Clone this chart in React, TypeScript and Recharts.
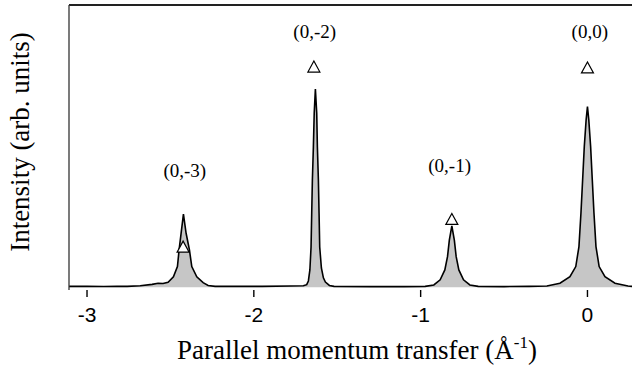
import { ComposedChart, Area, Scatter, XAxis, YAxis, ReferenceLine } from 'recharts';

// parallel momentum transfer (1/Å) and measured intensity (arb. units)
const momentum: number[] = [
  -3.108, -3.0, -2.9, -2.82, -2.759, -2.681, -2.61, -2.574, -2.544, -2.514,
  -2.482, -2.458, -2.448, -2.436, -2.422, -2.406, -2.386, -2.372, -2.342, -2.304,
  -2.274, -2.232, -2.1, -1.95, -1.781, -1.703, -1.683, -1.673, -1.664, -1.657,
  -1.653, -1.649, -1.643, -1.638, -1.631, -1.623, -1.619, -1.613, -1.609, -1.605,
  -1.595, -1.583, -1.571, -1.547, -1.519, -1.3, -1.1, -0.973, -0.921, -0.883,
  -0.855, -0.839, -0.828, -0.813, -0.798, -0.787, -0.771, -0.743, -0.705, -0.655,
  -0.5, -0.35, -0.243, -0.165, -0.105, -0.07, -0.051, -0.039, -0.029, -0.019,
  -0.008, 0.0, 0.008, 0.019, 0.029, 0.039, 0.051, 0.07, 0.105, 0.165,
  0.243, 0.267,
];
const intensity: number[] = [
  0.3, 0.3, 0.25, 0.3, 0.3, 0.5, 1.0, 1.4, 1.3, 1.7,
  3.7, 7.3, 13.2, 19.1, 25.9, 19.1, 13.2, 7.3, 3.7, 1.6,
  0.6, 0.3, 0.3, 0.3, 0.4, 0.5, 0.9, 2.2, 6.1, 14.2,
  26.3, 38.0, 49.7, 61.7, 70.2, 61.7, 49.7, 38.0, 26.3, 14.2,
  6.8, 3.3, 1.8, 0.6, 0.3, 0.2, 0.2, 0.3, 0.8, 2.6,
  6.1, 10.8, 16.7, 21.7, 16.7, 10.8, 6.1, 2.6, 0.8, 0.3,
  0.2, 0.3, 0.4, 1.4, 3.7, 7.3, 14.4, 26.3, 38.0, 49.8,
  59.3, 64.0, 59.3, 49.8, 38.0, 26.3, 14.4, 7.3, 3.7, 1.4,
  0.4, 0.3,
];

// expected spot positions (triangles) and their labels
const spotNames: string[] = ['(0,-3)', '(0,-2)', '(0,-1)', '(0,0)'];
const spotQ: number[] = [-2.424, -1.64, -0.813, 0.0];
const spotI: number[] = [14.2, 78.0, 24.0, 77.7];
const nameQ: number[] = [-2.414, -1.635, -0.826, 0.014];
const nameI: number[] = [41.0, 90.3, 42.9, 90.3];

const xTicks: number[] = [-3, -2, -1, 0];

const profile = momentum.map((q, i) => ({ q, v: intensity[i] }));
const spots = spotQ.map((q, i) => ({ q, v: spotI[i] }));
const names = nameQ.map((q, i) => ({ q, v: nameI[i], name: spotNames[i] }));

const serif = 'Liberation Serif, Times New Roman, serif';
const sans = 'Liberation Sans, Arial, sans-serif';

const Triangle = (props: any) => {
  const { cx, cy } = props;
  return (
    <polygon
      points={`${cx},${cy - 6} ${cx - 6},${cy + 5} ${cx + 6},${cy + 5}`}
      fill="#fff"
      stroke="#000"
      strokeWidth={1.2}
    />
  );
};

const SpotName = (props: any) => {
  const { cx, cy, payload } = props;
  return (
    <text x={cx} y={cy + 6} textAnchor="middle" fontFamily={serif} fontSize={19} fill="#000">
      {payload.name}
    </text>
  );
};

const YTitle = () => (
  <text
    x={29}
    y={142}
    transform="rotate(-90, 29, 142)"
    textAnchor="middle"
    fontFamily={serif}
    fontSize={27}
    fill="#000"
  >
    Intensity (arb. units)
  </text>
);

const XTitle = () => (
  <text x={357} y={359} textAnchor="middle" fontFamily={serif} fontSize={27} fill="#000">
    Parallel momentum transfer (Å
    <tspan dy={-11} fontSize={17}>-1</tspan>
    <tspan dy={11}>)</tspan>
  </text>
);

const App = () => {
  return (
    <div style={{ position: 'absolute', left: 0, top: 0 }}>
      <ComposedChart
        width={632}
        height={368}
        data={profile}
        margin={{ top: 5, right: 0, bottom: 48, left: 0 }}
      >
        <XAxis
          dataKey="q"
          type="number"
          domain={[-3.108, 0.267]}
          allowDataOverflow
          ticks={xTicks}
          axisLine={false}
          tickLine={{ stroke: '#000', strokeWidth: 1.4 }}
          tickSize={7}
          tickMargin={10}
          height={30}
          tick={{ fill: '#000', fontSize: 21, fontFamily: sans }}
          label={XTitle}
        />
        <YAxis
          dataKey="v"
          type="number"
          domain={[-1, 100]}
          allowDataOverflow
          width={69}
          tick={false}
          tickLine={false}
          axisLine={{ stroke: '#333', strokeWidth: 1.3 }}
          label={YTitle}
        />
        <ReferenceLine y={100} stroke="#222" strokeWidth={2} />
        <Area
          type="linear"
          dataKey="v"
          stroke="#000"
          strokeWidth={1.6}
          fill="#c6c6c6"
          fillOpacity={1}
          isAnimationActive={false}
          dot={false}
          activeDot={false}
        />
        <Scatter data={spots} dataKey="v" shape={Triangle} isAnimationActive={false} />
        <Scatter data={names} dataKey="v" shape={SpotName} isAnimationActive={false} />
      </ComposedChart>
    </div>
  );
};

export default App;
